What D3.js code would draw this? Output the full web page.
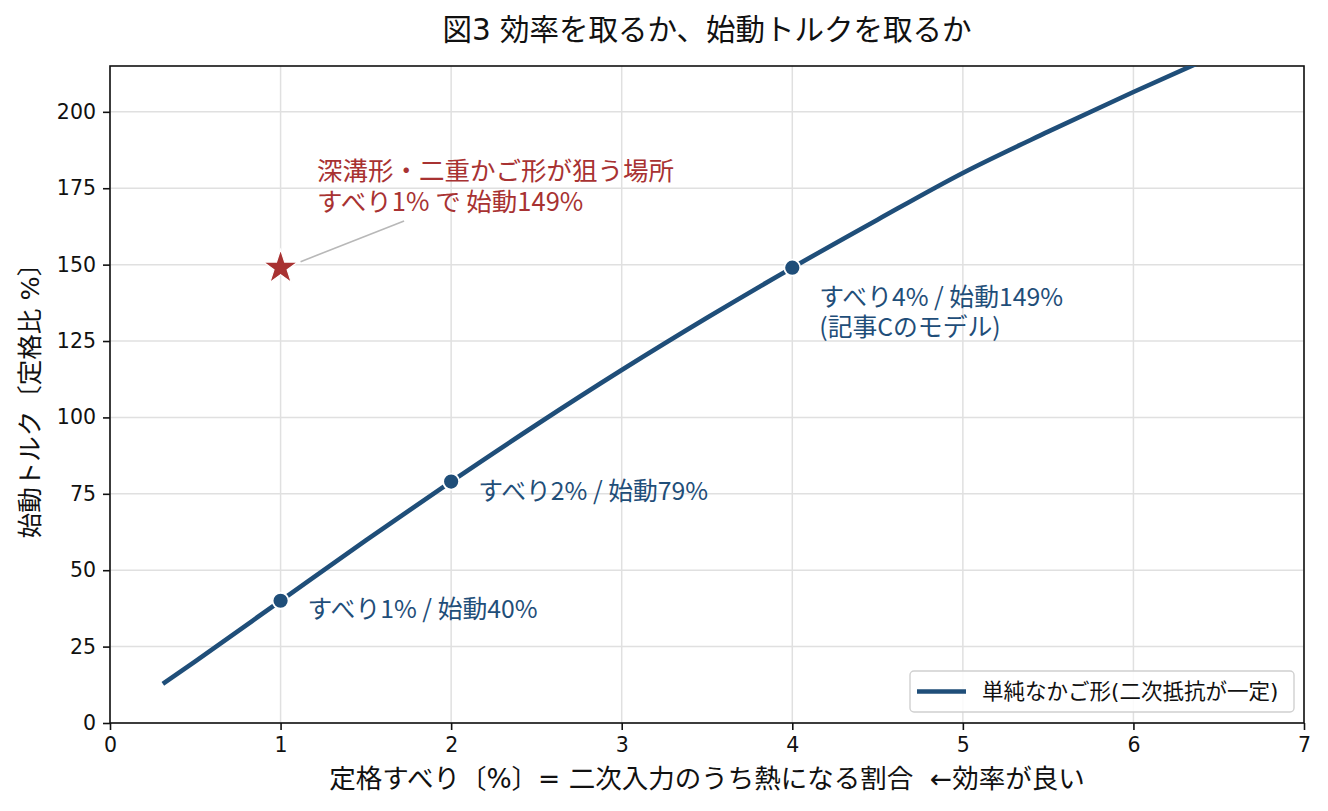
<!DOCTYPE html>
<html>
<head>
<meta charset="utf-8">
<script src="https://cdn.jsdelivr.net/npm/d3@7"></script>
<style>
  body { margin: 0; background: #fff; }
  text { white-space: pre; }
</style>
</head>
<body>
<div id="chart-area"></div>
<script>
// curve: rated slip [%] -> starting torque [% of rated]
const slipPct = [0.31, 0.5, 1, 1.5, 2, 2.5, 3, 3.5, 4, 4.5, 5, 5.5, 6, 6.5];
const startTorque = [12.8, 20.2, 40, 59.8, 79, 97.6, 115.5, 132.6, 149, 164.7, 180, 193.5, 206.5, 219];

// marked points on the curve
const markSlip = [1, 2, 4];
const markTorque = [40, 79, 149];
const markLabels = [
  ['すべり1% / 始動40%'],
  ['すべり2% / 始動79%'],
  ['すべり4% / 始動149%', '(記事Cのモデル)']
];

// target point (deep-bar / double cage)
const targetSlip = 1;
const targetTorque = 149;
const targetLabel = ['深溝形・二重かご形が狙う場所', 'すべり1% で 始動149%'];

const xTicks = [0, 1, 2, 3, 4, 5, 6, 7];
const yTicks = [0, 25, 50, 75, 100, 125, 150, 175, 200];

const titleText = '図3 効率を取るか、始動トルクを取るか';
const xLabelText = '定格すべり〔%〕= 二次入力のうち熱になる割合  ←効率が良い';
const yLabelText = '始動トルク〔定格比 %〕';
const legendText = '単純なかご形(二次抵抗が一定)';

const W = 1328, H = 811;
const margin = { left: 110, right: 24, top: 66, bottom: 88 };
const width = W - margin.left - margin.right;
const height = H - margin.top - margin.bottom;

const blue = '#1f4e79';
const red = '#a83232';
const mainFont = '"DejaVu Sans", "Noto Sans CJK JP", sans-serif';
const cjkFont = '"Noto Sans CJK JP", sans-serif';

const svg = d3.select('#chart-area').append('svg')
  .attr('width', W)
  .attr('height', H);

const chart = svg.append('g')
  .attr('transform', `translate(${margin.left},${margin.top})`);

const x = d3.scaleLinear().domain([0, 7]).range([0, width]);
const y = d3.scaleLinear().domain([0, 215]).range([height, 0]);

// grid
chart.append('g').selectAll('line.gx')
  .data(xTicks).enter().append('line')
  .attr('x1', d => x(d)).attr('x2', d => x(d))
  .attr('y1', 0).attr('y2', height)
  .attr('stroke', '#e0e0e0').attr('stroke-width', 1.5);
chart.append('g').selectAll('line.gy')
  .data(yTicks).enter().append('line')
  .attr('x1', 0).attr('x2', width)
  .attr('y1', d => y(d)).attr('y2', d => y(d))
  .attr('stroke', '#e0e0e0').attr('stroke-width', 1.5);

// axes
const xAxisGroup = chart.append('g')
  .attr('transform', `translate(0, ${height})`)
  .call(d3.axisBottom(x).tickValues(xTicks).tickFormat(d3.format('d'))
    .tickSize(7).tickPadding(7).tickSizeOuter(0));
const yAxisGroup = chart.append('g')
  .call(d3.axisLeft(y).tickValues(yTicks).tickFormat(d3.format('d'))
    .tickSize(7).tickPadding(7).tickSizeOuter(0));

[xAxisGroup, yAxisGroup].forEach(g => {
  g.select('.domain').remove();
  g.selectAll('line').attr('stroke', '#111').attr('stroke-width', 1.6);
  g.selectAll('text')
    .attr('fill', '#111')
    .style('font-family', '"DejaVu Sans", sans-serif')
    .style('font-size', '20.5px');
});

// frame
chart.append('rect')
  .attr('width', width).attr('height', height)
  .attr('fill', 'none').attr('stroke', '#111').attr('stroke-width', 1.6);

// clip for the curve
svg.append('defs').append('clipPath').attr('id', 'plot-clip')
  .append('rect').attr('width', width).attr('height', height);

const curveData = slipPct.map((s, i) => ({ s: s, t: startTorque[i] }));
const line = d3.line()
  .x(d => x(d.s))
  .y(d => y(d.t))
  .curve(d3.curveMonotoneX);

chart.append('path')
  .datum(curveData)
  .attr('clip-path', 'url(#plot-clip)')
  .attr('d', line)
  .attr('fill', 'none')
  .attr('stroke', blue)
  .attr('stroke-width', 4.6)
  .attr('stroke-linecap', 'butt');

// marked points
chart.selectAll('circle.mark')
  .data(markSlip).enter().append('circle')
  .attr('cx', d => x(d))
  .attr('cy', (d, i) => y(markTorque[i]))
  .attr('r', 8)
  .attr('fill', blue)
  .attr('stroke', '#fff')
  .attr('stroke-width', 1.8);

// label offsets in px (dx, baseline dy)
const markOffsets = [[27, 17], [27, 18], [27, 38]];
markLabels.forEach((lines, i) => {
  const t = chart.append('text')
    .attr('x', x(markSlip[i]) + markOffsets[i][0])
    .attr('y', y(markTorque[i]) + markOffsets[i][1])
    .attr('fill', blue)
    .style('font-family', cjkFont)
    .style('font-size', '24.8px');
  lines.forEach((l, j) => {
    t.append('tspan')
      .attr('x', x(markSlip[i]) + markOffsets[i][0])
      .attr('dy', j === 0 ? 0 : 30)
      .text(l);
  });
});

// target star + leader
chart.append('line')
  .attr('x1', x(targetSlip) + 20).attr('y1', y(targetTorque) - 6)
  .attr('x2', x(1.724)).attr('y2', y(164.3))
  .attr('stroke', '#b8b8b8').attr('stroke-width', 1.6);

chart.append('path')
  .attr('d', d3.symbol().type(d3.symbolStar).size(370)())
  .attr('transform', `translate(${x(targetSlip)},${y(targetTorque)})`)
  .attr('fill', red)
  .attr('stroke', '#fff')
  .attr('stroke-width', 1.2);

const tt = chart.append('text')
  .attr('fill', red)
  .style('font-family', cjkFont)
  .style('font-size', '25.5px');
targetLabel.forEach((l, j) => {
  tt.append('tspan')
    .attr('x', x(1.214))
    .attr('y', y(175) - 8 + j * 31)
    .text(l);
});

// title and axis labels
svg.append('text')
  .attr('x', margin.left + width / 2)
  .attr('y', 40)
  .attr('text-anchor', 'middle')
  .attr('fill', '#111')
  .style('font-family', mainFont)
  .style('font-size', '29.5px')
  .text(titleText);

svg.append('text')
  .attr('x', margin.left + width / 2)
  .attr('y', 788)
  .attr('text-anchor', 'middle')
  .attr('fill', '#111')
  .style('font-family', mainFont)
  .style('font-size', '26.5px')
  .text(xLabelText);

svg.append('text')
  .attr('transform', `translate(39, ${margin.top + height / 2}) rotate(-90)`)
  .attr('text-anchor', 'middle')
  .attr('fill', '#111')
  .style('font-family', mainFont)
  .style('font-size', '25.5px')
  .text(yLabelText);

// legend
const legend = chart.append('g')
  .attr('transform', `translate(${width - 394}, ${height - 52})`);
legend.append('rect')
  .attr('width', 384).attr('height', 41)
  .attr('rx', 4)
  .attr('fill', '#fff').attr('fill-opacity', 0.85)
  .attr('stroke', '#d0d0d0').attr('stroke-width', 1.4);
legend.append('line')
  .attr('x1', 7).attr('x2', 56)
  .attr('y1', 20.5).attr('y2', 20.5)
  .attr('stroke', blue).attr('stroke-width', 4.6);
legend.append('text')
  .attr('x', 72).attr('y', 28)
  .attr('fill', '#111')
  .style('font-family', mainFont)
  .style('font-size', '21.5px')
  .text(legendText);
</script>
</body>
</html>
